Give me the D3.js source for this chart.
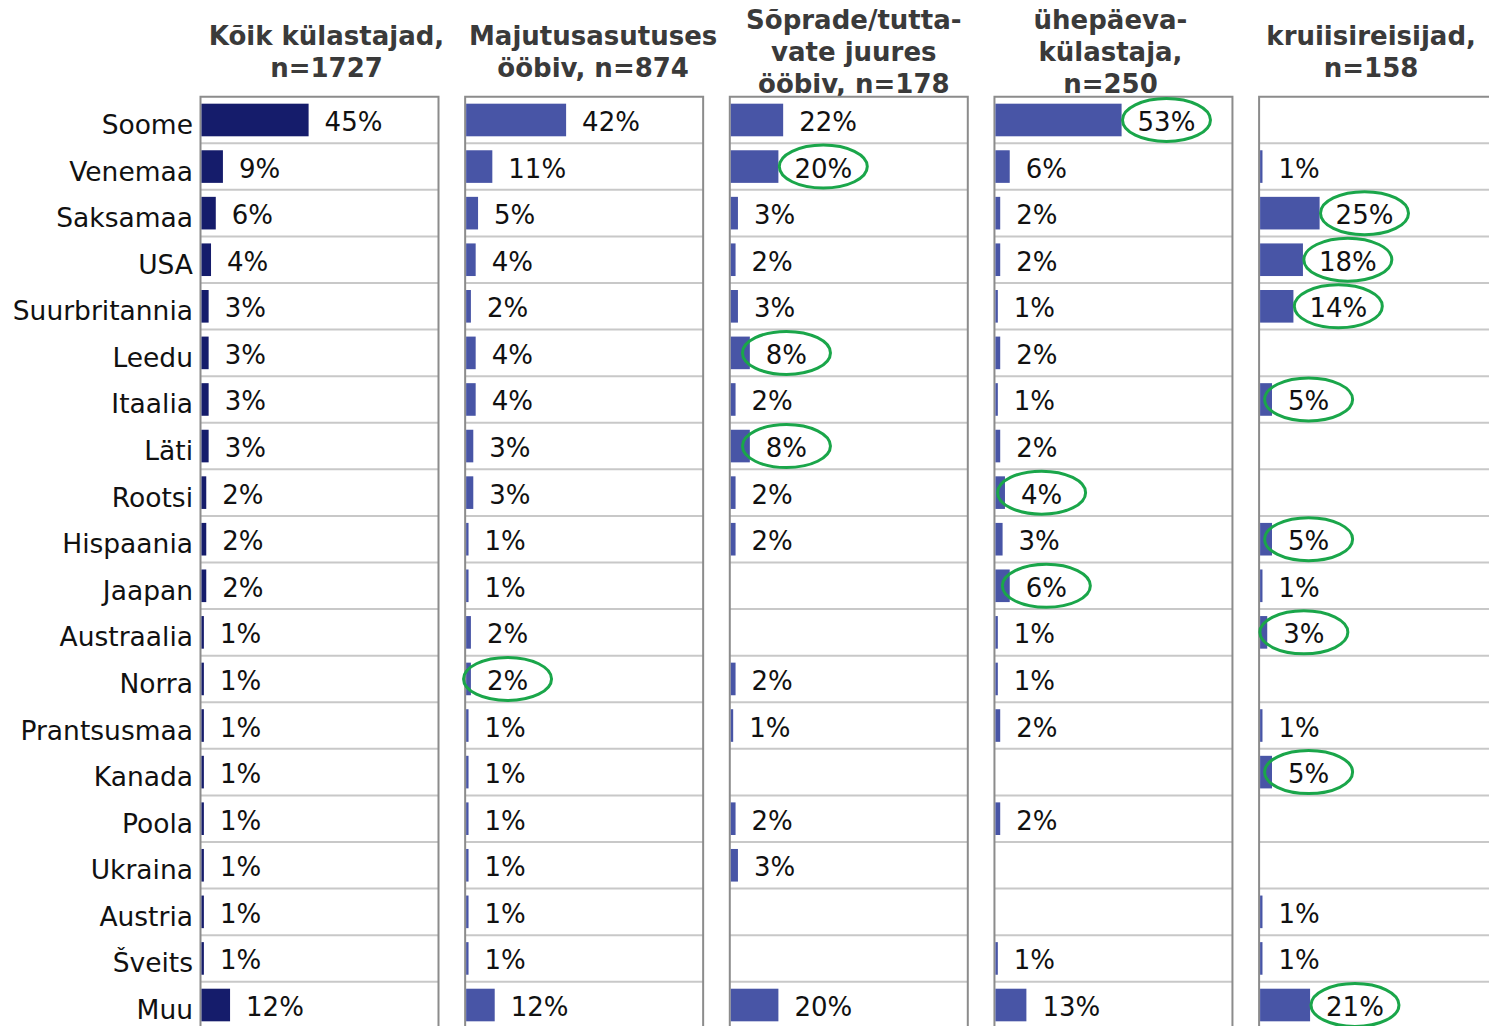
<!DOCTYPE html>
<html>
<head>
<meta charset="utf-8">
<title>Külastajate päritoluriigid</title>
<script src="https://cdn.jsdelivr.net/npm/d3@7"></script>
<style>
	body { margin: 0; background: #fff; }
	svg { display: block; font-family: "DejaVu Sans", Verdana, sans-serif; }
</style>
</head>
<body>
<svg id="chart"></svg>
<script>
// riigid (read)
var countries = ["Soome", "Venemaa", "Saksamaa", "USA", "Suurbritannia", "Leedu", "Itaalia", "Läti",
	"Rootsi", "Hispaania", "Jaapan", "Austraalia", "Norra", "Prantsusmaa", "Kanada", "Poola",
	"Ukraina", "Austria", "Šveits", "Muu"];

// paneelide pealkirjad
var titles = [
	["Kõik külastajad,", "n=1727"],
	["Majutusasutuses", "ööbiv, n=874"],
	["Sõprade/tutta-", "vate juures", "ööbiv, n=178"],
	["ühepäeva-", "külastaja,", "n=250"],
	["kruiisireisijad,", "n=158"]
];

// väärtused %, null = tühi
var allVisitors   = [45, 9, 6, 4, 3, 3, 3, 3, 2, 2, 2, 1, 1, 1, 1, 1, 1, 1, 1, 12];
var accommodation = [42, 11, 5, 4, 2, 4, 4, 3, 3, 1, 1, 2, 2, 1, 1, 1, 1, 1, 1, 12];
var friends       = [22, 20, 3, 2, 3, 8, 2, 8, 2, 2, null, null, 2, 1, null, 2, 3, null, null, 20];
var dayVisitors   = [53, 6, 2, 2, 1, 2, 1, 2, 4, 3, 6, 1, 1, 2, null, 2, null, null, 1, 13];
var cruise        = [null, 1, 25, 18, 14, null, 5, null, null, 5, 1, 3, null, 1, 5, null, null, 1, 1, 21];

// rohelise ringiga märgitud (paneeli indeks -> riigid)
var highlighted = [
	[],
	["Norra"],
	["Venemaa", "Leedu", "Läti"],
	["Soome", "Rootsi", "Jaapan"],
	["Saksamaa", "USA", "Suurbritannia", "Itaalia", "Hispaania", "Austraalia", "Kanada", "Muu"]
];

var series = [allVisitors, accommodation, friends, dayVisitors, cruise];

var w = 1489;
var h = 1026;
var top0 = 96.7;
var rowH = 46.58;
var panelW = 238;
var titleShift = [7, 9, 5, -3, -7];	// pealkirja nihe paneeli keskelt
var barColors = ["#151c6b", "#4855a6", "#4855a6", "#4855a6", "#4855a6"];

var svg = d3.select("#chart").attr("width", w).attr("height", h);

// skaalad
var y = d3.scaleBand()
	.domain(countries)
	.range([top0, top0 + countries.length * rowH])
	.paddingInner(0.3)
	.paddingOuter(0.15);

var px = d3.scalePoint()
	.domain(d3.range(series.length))
	.range([200.5, 200.5 + 4 * 264.65]);

var x = d3.scaleLinear().domain([0, 100]).range([0, 238]);

// pealkirjad enne paneele (paneel katab alumise rea osaliselt)
svg.selectAll(".title")
	.data(titles)
	.enter().append("text")
	.attr("class", "title")
	.attr("text-anchor", "middle")
	.attr("font-size", 26)
	.attr("font-weight", "bold")
	.attr("fill", "#3a3a3a")
	.attr("transform", function(d, i) { return "translate(" + (px(i) + panelW / 2 + titleShift[i]) + ",0)"; })
	.each(function(lines) {
		var t = d3.select(this);
		lines.forEach(function(l, j) {
			t.append("tspan")
				.attr("x", 0)
				.attr("y", 61 + (j - (lines.length - 1) / 2) * 32)
				.text(l);
		});
	});

// riikide nimed
svg.selectAll(".country")
	.data(countries)
	.enter().append("text")
	.attr("class", "country")
	.attr("text-anchor", "end")
	.attr("font-size", 26.5)
	.attr("fill", "#111")
	.attr("x", 193)
	.attr("y", function(d) { return y(d) + y.bandwidth() / 2 + 14; })
	.text(function(d) { return d; });

var panels = svg.selectAll(".panel")
	.data(series)
	.enter().append("g")
	.attr("class", "panel")
	.attr("transform", function(d, i) { return "translate(" + px(i) + ",0)"; });

panels.each(function(vals, pi) {
	var g = d3.select(this);
	var bottom = top0 + countries.length * rowH;

	g.append("rect")
		.attr("x", 0).attr("y", top0)
		.attr("width", panelW).attr("height", bottom - top0)
		.attr("fill", "#fff");

	// ridade jooned
	g.selectAll(".grid")
		.data(countries.slice(1))
		.enter().append("line")
		.attr("x1", 0).attr("x2", panelW)
		.attr("y1", function(d) { return y(d) - y.step() * 0.15; })
		.attr("y2", function(d) { return y(d) - y.step() * 0.15; })
		.attr("stroke", "#c8c8c8")
		.attr("stroke-width", 2);

	// raam
	g.append("path")
		.attr("d", "M0," + bottom + "V" + top0 + "H" + panelW + "V" + bottom)
		.attr("fill", "none")
		.attr("stroke", "#8c8c8c")
		.attr("stroke-width", 2);

	var rows = countries.map(function(c, i) { return { c: c, v: vals[i] }; })
		.filter(function(d) { return d.v != null; });

	g.selectAll(".bar")
		.data(rows)
		.enter().append("rect")
		.attr("x", 1)
		.attr("y", function(d) { return y(d.c); })
		.attr("width", function(d) { return x(d.v); })
		.attr("height", y.bandwidth())
		.attr("fill", barColors[pi]);

	var labels = g.selectAll(".val")
		.data(rows)
		.enter().append("text")
		.attr("class", "val")
		.attr("font-size", 26)
		.attr("fill", "#111")
		.attr("x", function(d) { return 1 + x(d.v) + 16; })
		.attr("y", function(d) { return y(d.c) + y.bandwidth() / 2 + 11; })
		.text(function(d) { return d.v + "%"; });

	// rohelised ringid
	labels.filter(function(d) { return highlighted[pi].indexOf(d.c) >= 0; })
		.each(function(d) {
			var tw = this.getComputedTextLength();
			g.append("ellipse")
				.attr("cx", 1 + x(d.v) + 16 + tw / 2)
				.attr("cy", y(d.c) + y.bandwidth() / 2)
				.attr("rx", 44)
				.attr("ry", 21.5)
				.attr("fill", "none")
				.attr("stroke", "#1aa64a")
				.attr("stroke-width", 3);
		});
});
</script>
</body>
</html>
